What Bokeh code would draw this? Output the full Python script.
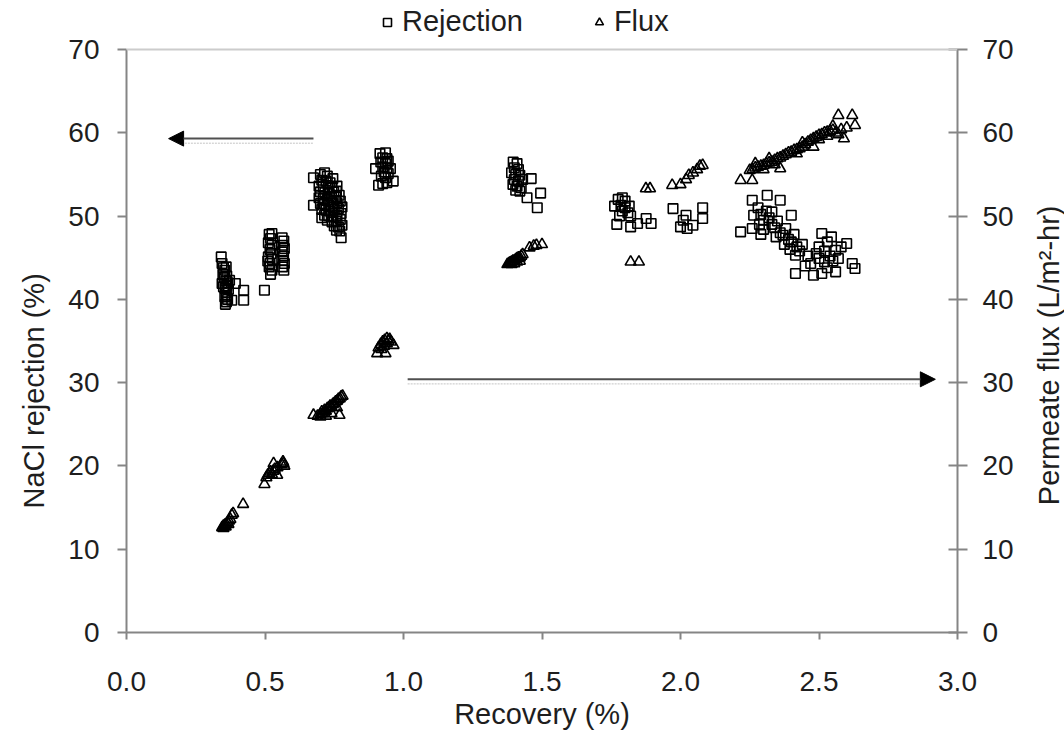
import math
from bokeh.plotting import figure
from bokeh.layouts import row
from bokeh.core.properties import value
from bokeh.models import (Range1d, LinearAxis, FixedTicker, NumeralTickFormatter,
                          Arrow, NormalHead, Legend, LegendItem, Span, Title)
from bokeh.embed import file_html
from bokeh.resources import INLINE

# ---------------- data ----------------
rej_x = [
    # ~0.35
    0.342, 0.345, 0.350, 0.355, 0.360, 0.348, 0.352, 0.358, 0.362, 0.366, 0.345, 0.350, 0.356,
    0.362, 0.368, 0.372, 0.360, 0.355, 0.365, 0.357, 0.380, 0.393, 0.423, 0.423, 0.498, 0.361, 0.361,
    # ~0.52 / 0.565
    0.515, 0.525, 0.520, 0.512, 0.525, 0.518, 0.522, 0.512, 0.526, 0.518, 0.515, 0.525, 0.520, 0.510,
    0.562, 0.568, 0.565, 0.570, 0.562, 0.567, 0.565, 0.570, 0.563, 0.568,
    # ~0.73
    0.700, 0.715, 0.725, 0.705, 0.720, 0.735, 0.695, 0.710, 0.728, 0.742, 0.700, 0.716, 0.732, 0.748,
    0.758, 0.695, 0.710, 0.725, 0.740, 0.755, 0.768, 0.700, 0.715, 0.730, 0.745, 0.760, 0.772, 0.705,
    0.720, 0.735, 0.750, 0.765, 0.778, 0.715, 0.730, 0.745, 0.760, 0.775, 0.725, 0.742, 0.757, 0.772,
    0.750, 0.765, 0.778, 0.770, 0.758, 0.675, 0.675, 0.775, 0.705, 0.760, 0.745,
    # ~0.93
    0.915, 0.935, 0.925, 0.940, 0.918, 0.935, 0.945, 0.925, 0.940, 0.899, 0.953, 0.930, 0.945, 0.920,
    0.935, 0.963, 0.910, 0.925, 0.940,
    # ~1.4
    1.396, 1.410, 1.400, 1.415, 1.390, 1.405, 1.420, 1.400, 1.415, 1.430, 1.395, 1.410, 1.425, 1.405,
    1.420, 1.461, 1.495, 1.446, 1.483,
    # ~1.8
    1.762, 1.775, 1.790, 1.800, 1.785, 1.800, 1.815, 1.790, 1.810, 1.780, 1.820, 1.770, 1.820, 1.845,
    1.876, 1.894,
    # ~2.0
    1.973, 2.020, 2.000, 2.024, 2.045, 2.080, 2.080, 2.010,
    # ~2.25-2.63
    2.217, 2.259, 2.264, 2.259, 2.313, 2.360, 2.400,
    2.280, 2.290, 2.300, 2.285, 2.310, 2.320, 2.330, 2.300, 2.340, 2.350, 2.360, 2.345, 2.370, 2.380,
    2.390, 2.375, 2.400, 2.410, 2.420, 2.395, 2.430, 2.415, 2.440, 2.330, 2.290,
    2.415, 2.470, 2.480, 2.510, 2.510, 2.600, 2.620, 2.630, 2.490, 2.500, 2.520, 2.530, 2.540, 2.550,
    2.560, 2.520, 2.530, 2.545, 2.570, 2.580, 2.500, 2.560, 2.460, 2.450,
]
rej_y = [
    45.1, 44.3, 43.8, 43.5, 43.9, 43.0, 42.6, 42.2, 42.8, 42.0, 41.9, 41.5, 41.3,
    41.6, 41.2, 42.3, 40.8, 40.3, 40.0, 39.4, 39.9, 41.9, 41.1, 39.9, 41.1, 40.5, 39.7,
    47.8, 47.9, 47.3, 46.8, 46.5, 46.0, 45.5, 45.1, 44.8, 44.3, 43.9, 43.5, 43.0, 44.6,
    47.4, 47.0, 46.5, 46.1, 45.7, 45.2, 44.7, 44.3, 43.9, 43.5,
    55.0, 55.2, 54.8, 54.3, 54.2, 54.0, 53.6, 53.5, 53.4, 53.5, 52.9, 52.8, 52.7, 52.9,
    53.0, 52.2, 52.1, 52.0, 52.2, 52.3, 52.5, 51.5, 51.4, 51.3, 51.5, 51.6, 51.8, 50.8,
    50.7, 50.6, 50.8, 50.9, 51.1, 50.1, 50.0, 49.9, 50.1, 50.3, 49.5, 49.3, 49.4, 49.6,
    48.8, 48.7, 48.9, 48.2, 48.3, 54.6, 51.3, 47.4, 49.8, 53.6, 54.5,
    57.5, 57.6, 57.0, 56.9, 56.5, 56.3, 56.6, 55.9, 55.8, 55.7, 55.7, 55.3, 55.1, 54.8,
    54.6, 54.2, 53.7, 53.9, 54.0,
    56.5, 56.3, 55.8, 55.6, 55.2, 55.0, 54.9, 54.4, 54.2, 54.4, 53.8, 53.6, 53.4, 53.1,
    53.0, 54.5, 52.75, 52.2, 51.0,
    51.2, 52.0, 52.2, 51.8, 51.3, 51.0, 51.2, 50.6, 50.4, 50.0, 50.0, 49.0, 48.7, 49.1,
    49.7, 49.1,
    50.9, 50.1, 48.7, 48.5, 48.9, 51.0, 49.7, 49.5,
    48.1, 48.5, 50.1, 51.9, 52.5, 51.9, 50.1,
    51.0, 50.2, 49.5, 49.0, 50.6, 49.8, 49.0, 48.4, 48.6, 49.4, 48.0, 47.5, 47.7, 48.5,
    47.2, 46.6, 46.9, 47.8, 46.3, 46.0, 45.8, 45.3, 46.6, 50.5, 47.8,
    43.1, 44.3, 42.9, 47.9, 43.1, 46.7, 44.3, 43.7, 45.5, 46.3, 45.8, 46.9, 45.2, 44.6,
    45.9, 44.5, 43.8, 47.5, 44.9, 46.3, 44.9, 43.3, 45.2, 44.0,
]

flux_x = [
    0.345, 0.350, 0.355, 0.360, 0.365, 0.370, 0.375, 0.350, 0.358, 0.368, 0.380, 0.385, 0.421,
    0.498, 0.505, 0.510, 0.515, 0.520, 0.525, 0.530, 0.535, 0.544, 0.531, 0.560, 0.567, 0.570, 0.565, 0.545,
    0.675, 0.690, 0.700, 0.705, 0.710, 0.715, 0.720, 0.725, 0.730, 0.735, 0.740, 0.745, 0.750, 0.755,
    0.760, 0.765, 0.770, 0.775, 0.780, 0.700, 0.720, 0.740, 0.760, 0.769,
    0.905, 0.935, 0.964, 0.910, 0.918, 0.925, 0.932, 0.940, 0.945, 0.950, 0.920, 0.930, 0.940, 0.955,
    1.375, 1.380, 1.385, 1.390, 1.395, 1.400, 1.405, 1.410, 1.415, 1.420, 1.425, 1.430, 1.390, 1.400,
    1.410, 1.420, 1.455, 1.470, 1.480, 1.500,
    1.820, 1.850, 1.875, 1.890,
    1.970, 2.000, 2.020, 2.030, 2.045, 2.060, 2.070, 2.080,
    2.217, 2.259, 2.250, 2.260, 2.270, 2.280, 2.290, 2.300, 2.310, 2.320, 2.330, 2.340, 2.350, 2.360,
    2.370, 2.380, 2.390, 2.400, 2.410, 2.420, 2.430, 2.440, 2.450, 2.460, 2.470, 2.480, 2.490, 2.500,
    2.510, 2.520, 2.530, 2.540, 2.550, 2.560, 2.570, 2.580, 2.360, 2.480, 2.590, 2.570, 2.620, 2.630,
    2.300, 2.340, 2.420, 2.500, 2.530, 2.270, 2.320, 2.440, 2.550, 2.600,
]
flux_y = [
    12.6, 12.8, 12.9, 13.0, 13.2, 13.4, 13.6, 12.5, 12.7, 13.0, 14.1, 14.3, 15.4,
    17.8, 18.6, 18.9, 19.1, 19.3, 19.0, 19.4, 19.6, 18.9, 20.3, 20.2, 20.3, 20.0, 20.5, 19.8,
    26.1, 26.0, 26.2, 26.5, 26.3, 26.7, 26.6, 26.9, 27.0, 27.2, 27.1, 27.4, 27.5, 27.7,
    27.8, 28.0, 28.1, 28.3, 28.4, 25.9, 26.0, 26.3, 27.0, 26.1,
    33.5, 33.5, 34.5, 34.2, 34.6, 34.9, 35.1, 35.3, 35.0, 35.2, 34.0, 34.4, 34.7, 34.9,
    44.2, 44.3, 44.4, 44.5, 44.6, 44.6, 44.8, 44.9, 45.0, 45.0, 45.2, 45.4, 44.2, 44.3,
    44.5, 44.6, 46.2, 46.4, 46.5, 46.6,
    44.5, 44.5, 53.3, 53.3,
    53.7, 53.8, 54.4, 54.9, 55.2, 55.6, 56.0, 56.1,
    54.3, 54.3, 55.5, 55.6, 55.8, 55.9, 56.0, 56.1, 56.3, 56.4, 56.5, 56.7, 56.9, 57.0,
    57.2, 57.4, 57.6, 57.7, 57.9, 58.0, 58.1, 58.3, 58.6, 58.9, 59.1, 59.3, 59.5, 59.7,
    59.8, 60.0, 60.1, 60.2, 60.3, 60.0, 59.8, 60.4, 55.7, 58.3, 59.3, 62.1, 62.1, 60.9,
    55.6, 56.2, 57.5, 59.2, 59.6, 56.3, 56.9, 58.8, 60.8, 60.6,
]

x_ticks = [0.0, 0.5, 1.0, 1.5, 2.0, 2.5, 3.0]
y_ticks = [0, 10, 20, 30, 40, 50, 60, 70]

FONT = "Liberation Sans"
AX = "#858585"
TXT = "#1e1e1e"

# frame reaches the top of the page so the legend can sit inside it;
# the axes themselves are bounded to 0..70
Y_TOP = 70 + 49 * 70 / 583
TITLE_W = 40   # narrow strip on the right that carries the right-hand axis title

p = figure(width=1064 - TITLE_W, height=732, output_backend="svg", toolbar_location=None,
           title_location=None,
           x_range=Range1d(0, 3), y_range=Range1d(0, Y_TOP),
           min_border_left=126, min_border_right=107 - TITLE_W, min_border_top=0,
           min_border_bottom=100)
p.extra_y_ranges = {"flux": Range1d(0, Y_TOP)}
p.grid.visible = False
p.outline_line_color = None
p.background_fill_color = "white"
p.border_fill_color = "white"

def style(ax):
    ax.axis_line_color = AX
    ax.axis_line_width = 2
    ax.major_tick_line_color = AX
    ax.major_tick_line_width = 2
    ax.minor_tick_line_color = None
    ax.major_label_text_font = FONT
    ax.major_label_text_font_size = "28px"
    ax.major_label_text_color = TXT
    ax.axis_label_text_font = FONT
    ax.axis_label_text_font_size = "29px"
    ax.axis_label_text_font_style = "normal"
    ax.axis_label_text_color = TXT

xa = p.xaxis[0]
style(xa)
xa.ticker = FixedTicker(ticks=x_ticks)
xa.formatter = NumeralTickFormatter(format="0.0")
xa.major_tick_in = 0
xa.major_tick_out = 7
xa.major_label_standoff = 32
xa.axis_label = "Recovery (%)"
xa.axis_label_standoff = 4

ya = p.yaxis[0]
style(ya)
ya.bounds = (0, 70)
ya.ticker = FixedTicker(ticks=y_ticks)
ya.major_tick_in = 0
ya.major_tick_out = 9
ya.major_label_standoff = 18

ra = LinearAxis(y_range_name="flux")
style(ra)
ra.bounds = (0, 70)
ra.ticker = FixedTicker(ticks=y_ticks)
ra.major_tick_in = 9
ra.major_tick_out = 10
ra.major_label_standoff = 15
p.add_layout(ra, "right")

# left title: starts 124 px above the bottom of the plot area, reads upward
p.add_layout(Title(text="NaCl rejection (%)", align="left", offset=124,
                   vertical_align="bottom", standoff=31,
                   text_font=FONT, text_font_size="29px", text_font_style="normal",
                   text_color=TXT), "left")

# light top border of the plot area at 70
p.add_layout(Span(location=70, dimension="width", line_color="#cccccc", line_width=2))

# markers
r_rej = p.scatter(rej_x, rej_y, marker="square", size=9.5, line_color="black",
                  line_width=1.6, fill_alpha=0)
r_flux = p.scatter(flux_x, flux_y, marker="triangle", size=11, line_color="black",
                   line_width=1.6, fill_alpha=0, y_range_name="flux")

# arrows with faint shadows
p.line([0.20, 0.675], [58.75, 58.75], line_color="#c4c4c4", line_width=1, line_dash="2 1")
p.add_layout(Arrow(end=NormalHead(size=15, fill_color="black", line_color="black"),
                   x_start=0.675, y_start=59.3, x_end=0.152, y_end=59.3,
                   line_color="#505050", line_width=2))
p.line([1.015, 2.88], [29.85, 29.85], line_color="#c4c4c4", line_width=1, line_dash="2 1")
p.add_layout(Arrow(end=NormalHead(size=15, fill_color="black", line_color="black"),
                   x_start=1.015, y_start=30.4, x_end=2.92, y_end=30.4,
                   line_color="#505050", line_width=2))

legend = Legend(items=[LegendItem(label="Rejection", renderers=[r_rej]),
                       LegendItem(label="Flux", renderers=[r_flux])],
                orientation="horizontal", location=(251, 594),
                padding=0, margin=0, spacing=66, label_standoff=5,
                glyph_width=20, glyph_height=32, label_height=32,
                label_text_font=FONT, label_text_font_size="29px", label_text_color=TXT,
                border_line_alpha=0, background_fill_alpha=0)
p.add_layout(legend, "center")

# right-hand axis title in its own narrow strip (pixel coordinates, y up)
q = figure(width=TITLE_W, height=732, output_backend="svg", toolbar_location=None,
           title_location=None, x_axis_location=None, y_axis_location=None,
           x_range=Range1d(0, TITLE_W), y_range=Range1d(0, 732),
           min_border_left=0, min_border_right=0, min_border_top=0, min_border_bottom=0)
q.grid.visible = False
q.outline_line_color = None
q.background_fill_color = "white"
q.border_fill_color = "white"
q.text(x=[24], y=[732 - 411], text=["Permeate flux (L/m²-hr)"], angle=math.pi / 2,
       text_align="center", text_baseline="middle", text_font=value(FONT),
       text_font_size="29px", text_color=TXT)

layout = row(p, q, spacing=0)
open("out.html", "w").write(file_html(layout, INLINE))
